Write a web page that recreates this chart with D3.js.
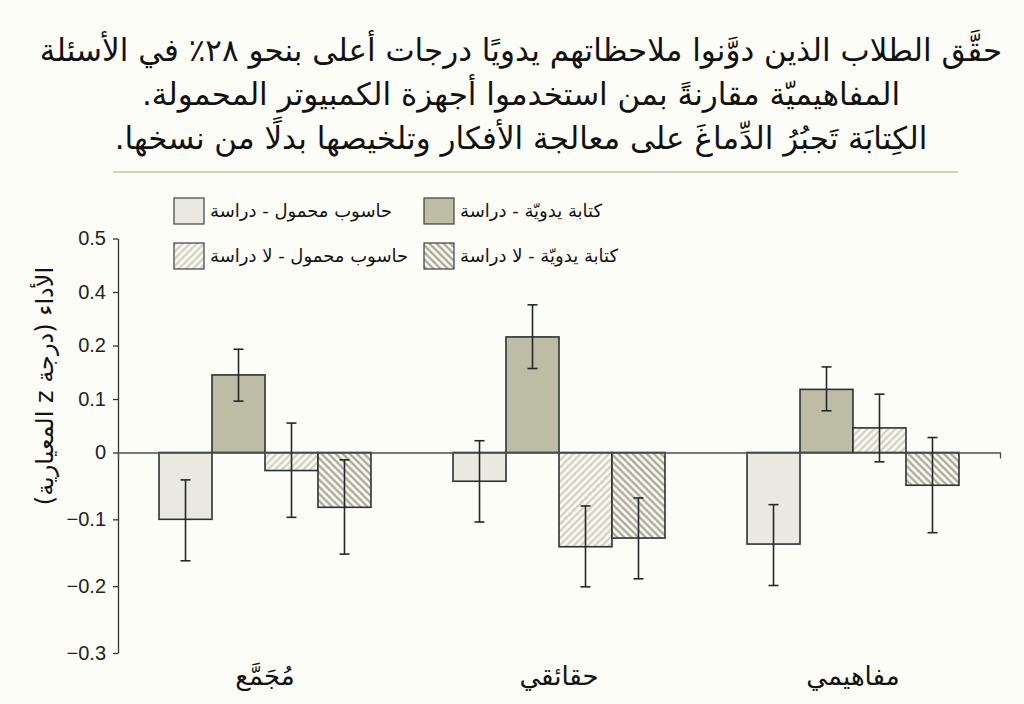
<!DOCTYPE html>
<html><head><meta charset="utf-8">
<script src="https://cdn.jsdelivr.net/npm/d3@7"></script>
<style>
html,body{margin:0;padding:0;background:#fdfdf7;}
svg{display:block;}
</style></head>
<body>
<script>
// ---- data ----
const titleLines = [
  "حقَّق الطلاب الذين دوَّنوا ملاحظاتهم يدويًا درجات أعلى بنحو ٢٨٪ في الأسئلة",
  "المفاهيميّة مقارنةً بمن استخدموا أجهزة الكمبيوتر المحمولة.",
  "الكِتابَة تَجبُرُ الدِّماغَ على معالجة الأفكار وتلخيصها بدلًا من نسخها."
];
const categories = ["مُجَمَّع", "حقائقي", "مفاهيمي"];
const seriesNames = ["حاسوب محمول - دراسة", "كتابة يدويّة - دراسة", "حاسوب محمول - لا دراسة", "كتابة يدويّة - لا دراسة"];
const laptopStudy     = [-0.100, -0.043, -0.137];
const handStudy       = [ 0.145,  0.216,  0.118];
const laptopNoStudy   = [-0.027, -0.141,  0.046];
const handNoStudy     = [-0.082, -0.128, -0.049];
const laptopStudyLo   = [-0.162, -0.104, -0.199];
const laptopStudyHi   = [-0.041,  0.022, -0.078];
const handStudyLo     = [ 0.096,  0.157,  0.078];
const handStudyHi     = [ 0.193,  0.276,  0.160];
const laptopNoStudyLo = [-0.097, -0.201, -0.014];
const laptopNoStudyHi = [ 0.055, -0.080,  0.109];
const handNoStudyLo   = [-0.152, -0.189, -0.120];
const handNoStudyHi   = [-0.011, -0.068,  0.028];
const yTickValues = [-0.3, -0.2, -0.1, 0, 0.1, 0.2, 0.3, 0.4];
const yTickLabels = ["−0.3", "−0.2", "−0.1", "0", "0.1", "0.2", "0.4", "0.5"];
const yAxisTitle = "الأداء (درجة z المعيارية)";

const seriesVals = [laptopStudy, handStudy, laptopNoStudy, handNoStudy];
const seriesLo = [laptopStudyLo, handStudyLo, laptopNoStudyLo, handNoStudyLo];
const seriesHi = [laptopStudyHi, handStudyHi, laptopNoStudyHi, handNoStudyHi];
const fills = ["#e9e9e1", "#bdbca5", "url(#hatchLight)", "url(#hatchDark)"];

const W = 1024, H = 704;
const svg = d3.select("body").append("svg").attr("width", W).attr("height", H);
svg.append("rect").attr("width", W).attr("height", H).attr("fill", "#fdfdf7");

const defs = svg.append("defs");
function hatch(id, bg, color, angle) {
  const p = defs.append("pattern").attr("id", id).attr("patternUnits", "userSpaceOnUse")
    .attr("width", 5).attr("height", 5).attr("patternTransform", `rotate(${angle})`);
  p.append("rect").attr("width", 5).attr("height", 5).attr("fill", bg);
  p.append("line").attr("x1", 1.5).attr("y1", 0).attr("x2", 1.5).attr("y2", 5)
    .attr("stroke", color).attr("stroke-width", 2);
}
hatch("hatchLight", "#fbfbf5", "#cbcab9", 45);
hatch("hatchDark", "#fbfbf5", "#9d9c8b", -45);

// title
const tFont = "'DejaVu Sans', 'Noto Sans', sans-serif";
svg.append("g").selectAll("text").data(titleLines).join("text")
  .attr("x", 521).attr("y", (d, i) => 61 + i * 44)
  .attr("text-anchor", "middle").attr("direction", "rtl")
  .attr("font-family", tFont).attr("font-size", 31).attr("fill", "#111")
  .text(d => d);
svg.append("line").attr("x1", 113).attr("x2", 958).attr("y1", 172).attr("y2", 172)
  .attr("stroke", "#d3cfbf").attr("stroke-width", 2);

// scales
const y = d3.scaleLinear().domain([-0.3, 0, 0.4]).range([653, 452.5, 238.5]);
const x = d3.scaleBand().domain(categories).range([118, 1000]).padding(0);
const xs = d3.scaleBand().domain(d3.range(4)).range([0, x.bandwidth()]).paddingInner(0).paddingOuter(0.774);

// y axis
const yAxis = svg.append("g").attr("transform", "translate(118,0)")
  .call(d3.axisLeft(y).tickValues(yTickValues).tickFormat((d, i) => yTickLabels[i]).tickSize(5).tickSizeOuter(0).tickPadding(7));
yAxis.selectAll("text").attr("font-family", "'Liberation Sans', Arial, sans-serif").attr("font-size", 20).attr("fill", "#222");
yAxis.selectAll("line,path").attr("stroke", "#333").attr("stroke-width", 1.3);

svg.append("text").attr("transform", "translate(53,386) rotate(-90)")
  .attr("text-anchor", "middle").attr("direction", "rtl")
  .attr("font-family", tFont).attr("font-size", 24).attr("fill", "#111")
  .text(yAxisTitle);

// bars
const data = [];
categories.forEach((c, ci) => seriesVals.forEach((s, si) => data.push({c, si, v: s[ci], lo: seriesLo[si][ci], hi: seriesHi[si][ci]})));

svg.append("g").selectAll("rect").data(data).join("rect")
  .attr("x", d => x(d.c) + xs(d.si))
  .attr("width", xs.bandwidth())
  .attr("y", d => Math.min(y(d.v), y(0)))
  .attr("height", d => Math.abs(y(d.v) - y(0)))
  .attr("fill", d => fills[d.si])
  .attr("stroke", "#2b3232").attr("stroke-width", 1.6);

// zero line (x axis)
const xAxis = svg.append("g").attr("transform", `translate(0,${y(0)})`)
  .call(d3.axisBottom(x).tickValues([]).tickSizeOuter(6));
xAxis.select("path").attr("stroke", "#4a5050").attr("stroke-width", 1.3).attr("fill", "none");

// error bars
const eb = svg.append("g").attr("stroke", "#222828").attr("stroke-width", 1.6);
data.forEach(d => {
  const cx = x(d.c) + xs(d.si) + xs.bandwidth() / 2;
  eb.append("line").attr("x1", cx).attr("x2", cx).attr("y1", y(d.hi)).attr("y2", y(d.lo));
  eb.append("line").attr("x1", cx - 5).attr("x2", cx + 5).attr("y1", y(d.hi)).attr("y2", y(d.hi));
  eb.append("line").attr("x1", cx - 5).attr("x2", cx + 5).attr("y1", y(d.lo)).attr("y2", y(d.lo));
});

// category labels
svg.append("g").selectAll("text").data(categories).join("text")
  .attr("x", d => x(d) + x.bandwidth() / 2).attr("y", 685)
  .attr("text-anchor", "middle").attr("direction", "rtl")
  .attr("font-family", tFont).attr("font-size", 26).attr("fill", "#111")
  .text(d => d);

// legend
const legPos = [[174, 198], [424, 198], [174, 243], [424, 243]];
const leg = svg.append("g");
seriesNames.forEach((n, i) => {
  const [lx, ly] = legPos[i];
  leg.append("rect").attr("x", lx).attr("y", ly).attr("width", 30).attr("height", 26)
    .attr("fill", fills[i]).attr("stroke", "#3a4040").attr("stroke-width", 1.2);
  leg.append("text").attr("x", lx + 36).attr("y", ly + 19)
    .attr("text-anchor", "start")
    .attr("font-family", tFont).attr("font-size", 18).attr("fill", "#111")
    .text(n);
});
</script>
</body></html>
